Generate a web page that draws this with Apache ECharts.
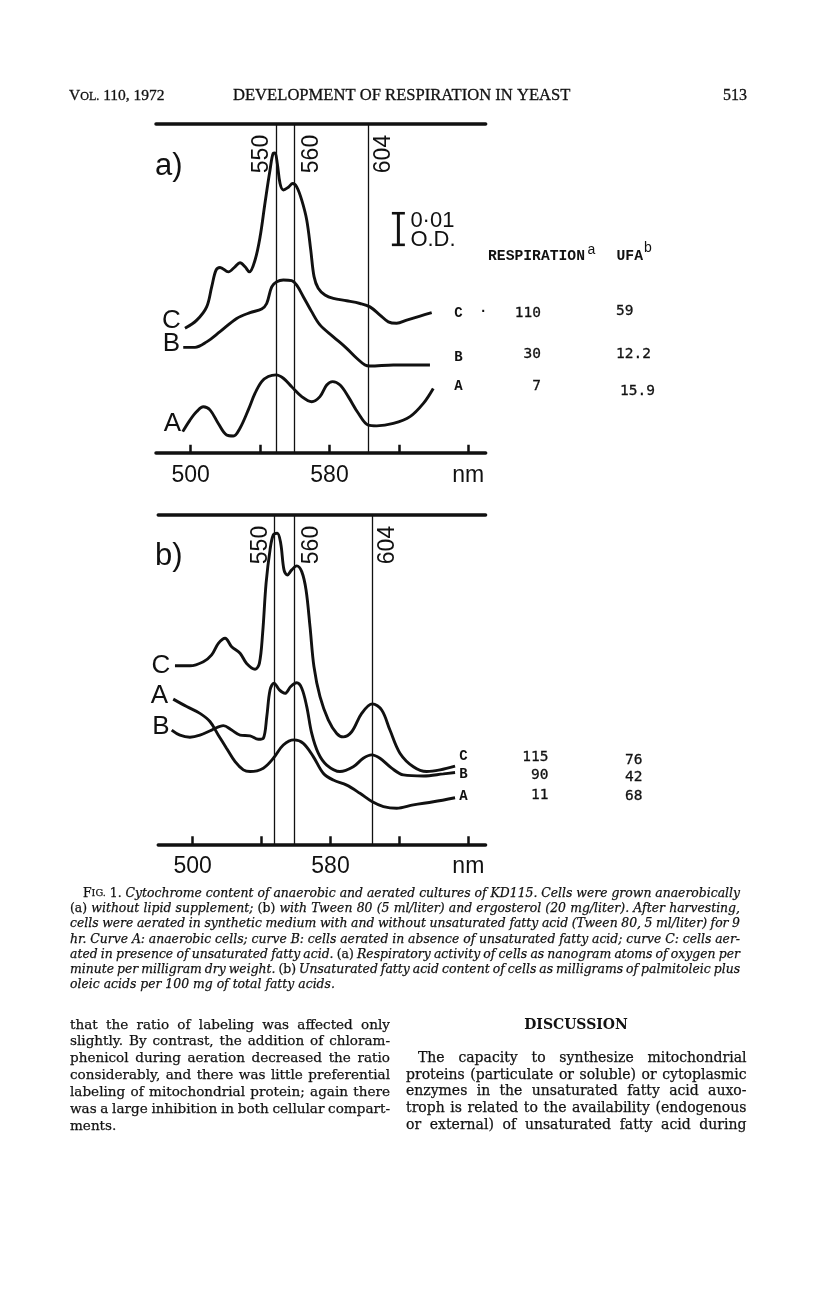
<!DOCTYPE html>
<html><head><meta charset="utf-8">
<script src="https://cdn.jsdelivr.net/npm/echarts@6/dist/echarts.min.js"></script>
<style>html,body{margin:0;padding:0;background:#fff}#c{width:816px;height:1305px}</style>
</head><body><div id="c"></div>
<script>
// ---------------- DATA ----------------
// wavelengths (nm) and relative absorbance (units of 0.001 O.D., arbitrary offsets)
const aC_nm = [496.7,503.5,509.2,512.1,514.6,516.9,521.7,525.5,528.4,531.3,533.8,537.1,540.0,542.8,545.7,547.6,548.6,549.9,551.5,553.4,556.3,558.8,561.1,564.0,566.9,569.2,571.1,573.5,577.4,582.2,589.9,597.6,603.3,609.1,613.9,618.7,624.5,632.2,638.9];
const aC_od = [36.6,39.0,42.9,48.8,53.7,54.5,53.2,54.7,55.9,54.7,53.2,56.7,63.5,73.4,83.1,88.1,88.2,85.1,79.2,77.3,78.1,79.2,78.2,74.3,68.4,59.6,51.8,48.4,46.4,45.4,44.7,43.9,42.9,40.5,38.5,38.1,39.0,40.2,41.2];
const aB_nm = [495.7,502.5,509.2,516.9,526.5,534.2,540.9,543.8,546.7,549.6,553.4,558.2,561.1,564.9,569.7,574.5,582.2,589.9,595.7,600.5,603.3,616.8,637.9];
const aB_od = [31.0,31.0,32.6,35.6,39.5,41.2,42.3,43.9,48.8,50.3,50.8,50.6,49.3,45.9,41.5,37.6,34.1,30.7,27.8,25.8,25.5,25.8,25.8];
const aA_nm = [495.4,499.6,503.5,507.3,511.1,515.9,520.7,524.6,528.4,533.2,537.1,540.9,544.7,549.2,553.4,558.2,564.0,569.7,574.5,578.4,581.8,586.1,590.8,596.6,602.4,607.2,616.8,626.4,634.1,639.8];
const aA_od = [6.2,9.6,12.1,13.5,12.6,8.6,5.2,4.9,7.2,12.6,17.5,20.9,22.4,22.9,21.9,19.4,16.5,15.0,16.5,19.9,20.9,19.9,16.5,11.6,8.1,7.9,8.6,10.6,14.5,18.9];

const bC_nm = [489.7,498.4,506.2,511.0,514.9,518.8,522.6,527.5,531.3,536.2,538.7,540.6,542.6,544.9,546.8,549.1,551.1,553.0,554.9,557.5,560.4,563.3,565.8,568.1,570.4,573.9,578.7,583.6,587.4,592.3,598.1,604.3,609.7,614.5,620.3,628.1,635.8,643.6,652.3];
const bC_od = [52.5,52.5,53.7,55.7,59.1,60.6,58.1,56.2,53.2,51.5,53.2,62.1,76.8,86.6,91.0,91.5,88.5,80.7,79.2,80.7,81.9,80.2,74.8,64.0,52.2,43.4,36.6,32.6,31.6,33.1,38.5,41.3,39.5,33.6,26.8,22.8,21.4,21.9,23.0];
const bB_nm = [487.8,492.6,498.4,504.2,511.0,517.8,522.6,527.5,533.3,538.1,541.0,543.0,544.9,547.2,550.3,553.6,556.9,560.4,563.3,566.2,569.1,572.9,577.8,585.5,593.2,599.0,603.9,608.7,615.5,622.3,633.9,645.5,652.3];
const bB_od = [33.6,32.1,31.5,32.1,33.6,34.9,33.6,32.1,31.9,30.9,31.2,37.5,45.4,47.4,45.4,44.4,46.4,47.5,45.9,40.5,32.6,26.8,23.3,21.4,22.8,25.3,26.3,25.3,22.4,20.4,20.1,20.7,21.1];
const bA_nm = [488.7,496.5,504.2,510.0,514.9,519.7,524.6,529.4,533.3,541.0,546.8,552.6,558.8,564.2,570.0,575.8,581.6,589.4,597.1,604.3,610.7,618.4,628.1,639.7,652.3];
const bA_od = [42.7,40.5,38.5,36.1,32.1,28.2,24.3,21.9,21.4,22.4,25.3,29.2,30.7,29.7,25.8,20.9,18.9,17.4,15.0,12.5,11.1,10.6,11.6,12.5,13.7];

// reference wavelength lines (as drawn) and their labels
const aLines_nm = [549.2, 559.5, 602.4];
const bLines_nm = [547.4, 558.8, 604.3];
const lineLabels = ['550', '560', '604'];

// axis ticks / labels
const tickValues = [500, 540, 580, 620, 660];
const labelValues = [500, 580, 660];
const labelTexts = {500: '500', 580: '580', 660: 'nm'};

// scale bar: 0.01 O.D. (10 units)
const scaleBar = {nm: 619.7, od: 60.8, len: 10, text1: '0\u00b701', text2: 'O.D.'};

// table values
const tableRows = ['C', 'B', 'A'];
const aRespiration = ['110', '30', '7'];
const aUFA = ['59', '12.2', '15.9'];
const bRespiration = ['115', '90', '11'];
const bUFA = ['76', '42', '68'];

// texts
const headerLeft = 'VOL. 110, 1972';
const headerTitle = 'DEVELOPMENT OF RESPIRATION IN YEAST';
const headerPage = '513';
const captionLines = [
  'FIG. 1. Cytochrome content of anaerobic and aerated cultures of KD115. Cells were grown anaerobically',
  '(a) without lipid supplement; (b) with Tween 80 (5 ml/liter) and ergosterol (20 mg/liter). After harvesting,',
  'cells were aerated in synthetic medium with and without unsaturated fatty acid (Tween 80, 5 ml/liter) for 9',
  'hr. Curve A: anaerobic cells; curve B: cells aerated in absence of unsaturated fatty acid; curve C: cells aer-',
  'ated in presence of unsaturated fatty acid. (a) Respiratory activity of cells as nanogram atoms of oxygen per',
  'minute per milligram dry weight. (b) Unsaturated fatty acid content of cells as milligrams of palmitoleic plus',
  'oleic acids per 100 mg of total fatty acids.'
];
const leftColumn = [
  'that the ratio of labeling was affected only',
  'slightly. By contrast, the addition of chloram-',
  'phenicol during aeration decreased the ratio',
  'considerably, and there was little preferential',
  'labeling of mitochondrial protein; again there',
  'was a large inhibition in both cellular compart-',
  'ments.'
];
const rightHeading = 'DISCUSSION';
const rightColumn = [
  'The capacity to synthesize mitochondrial',
  'proteins (particulate or soluble) or cytoplasmic',
  'enzymes in the unsaturated fatty acid auxo-',
  'troph is related to the availability (endogenous',
  'or external) of unsaturated fatty acid during'
];

// ---------------- CHART ----------------
const INK = '#111';
const chart = echarts.init(document.getElementById('c'), null, {renderer: 'canvas'});
const zip = (x, y) => x.map((v, i) => [v, y[i]]);

function xAxesFor(gi) {
  return [{
    gridIndex: gi, type: 'value', min: 480, max: 670, position: 'bottom',
    axisLine: {onZero: false, lineStyle: {color: INK, width: 3.5}},
    axisTick: {show: true, inside: true, length: 8, customValues: tickValues, lineStyle: {color: INK, width: 2.5}},
    axisLabel: {show: true, customValues: labelValues, formatter: v => labelTexts[v] || '', margin: 11,
      color: INK, fontSize: 23, fontFamily: 'Liberation Sans, Arial, sans-serif'},
    splitLine: {show: false}
  }, {
    gridIndex: gi, type: 'value', min: 480, max: 670, position: 'top',
    axisLine: {onZero: false, lineStyle: {color: INK, width: 3.5}},
    axisTick: {show: false}, axisLabel: {show: false}, splitLine: {show: false}
  }];
}
function curve(name, xi, yi, nm, od, marks) {
  const s = {
    name, type: 'line', xAxisIndex: xi, yAxisIndex: yi, data: zip(nm, od),
    smooth: 0.35, showSymbol: false, symbol: 'none', silent: true,
    lineStyle: {color: INK, width: 2.9}, z: 3
  };
  if (marks) {
    s.markLine = {silent: true, symbol: 'none', label: {show: false},
      lineStyle: {color: INK, width: 1.3, type: 'solid'},
      data: marks.map(v => ({xAxis: v}))};
  }
  return s;
}

const option = {
  backgroundColor: '#fff',
  animation: false,
  grid: [
    {left: 156, top: 124, width: 329.65, height: 328.7, containLabel: false, outerBoundsMode: 'none'},
    {left: 158.25, top: 515, width: 327.3, height: 329.3, containLabel: false, outerBoundsMode: 'none'}
  ],
  xAxis: [...xAxesFor(0), ...xAxesFor(1)],
  yAxis: [
    {gridIndex: 0, type: 'value', min: 0, max: 96.7, show: false},
    {gridIndex: 1, type: 'value', min: 0, max: 96.85, show: false}
  ],
  series: [
    curve('a-C', 0, 0, aC_nm, aC_od, aLines_nm),
    curve('a-B', 0, 0, aB_nm, aB_od),
    curve('a-A', 0, 0, aA_nm, aA_od),
    curve('b-C', 2, 1, bC_nm, bC_od, bLines_nm),
    curve('b-B', 2, 1, bB_nm, bB_od),
    curve('b-A', 2, 1, bA_nm, bA_od)
  ]
};
chart.setOption(option);

// ---------------- ANNOTATIONS ----------------
const els = [];
const SANS = 'Liberation Sans, Arial, sans-serif';
const SERIF = 'DejaVu Serif, serif';
const TIMES = 'Liberation Serif, serif';
function txt(x, y, t, font, align, extra, bold) {
  const st = {text: t, font, fill: INK, align: align || 'left', verticalAlign: 'middle',
      textAlign: align || 'left', textVerticalAlign: 'middle'};
  if (bold) { st.stroke = INK; st.lineWidth = bold; }
  const e = Object.assign({type: 'text', x, y, silent: true, z: 10, style: st}, extra || {});
  els.push(e);
}
function ln(x1, y1, x2, y2, w) {
  els.push({type: 'line', silent: true, z: 10, shape: {x1, y1, x2, y2}, style: {stroke: INK, lineWidth: w, lineCap: 'butt'}});
}

// rotated wavelength labels near top of each reference line
const labelOffsets = [-14, 18, 15];
[[0, aLines_nm], [1, bLines_nm]].forEach(([gi, arr]) => {
  arr.forEach((v, i) => {
    const topY = chart.convertToPixel({gridIndex: gi}, [v, gi === 0 ? 96.7 : 96.85])[1];
    const x = chart.convertToPixel({gridIndex: gi}, [v, 0])[0];
    txt(x + labelOffsets[i], topY + 30, lineLabels[i], '23px ' + SANS, 'center', {rotation: Math.PI / 2});
  });
});

// panel letters
txt(155, 166, 'a)', '31px ' + SANS, 'left');
txt(155, 556, 'b)', '31px ' + SANS, 'left');

// curve letters on the left
txt(171.5, 321, 'C', '26px ' + SANS, 'center');
txt(171.5, 344, 'B', '26px ' + SANS, 'center');
txt(172.5, 423.5, 'A', '26px ' + SANS, 'center');
txt(161, 665.5, 'C', '26px ' + SANS, 'center');
txt(159.5, 695.5, 'A', '26px ' + SANS, 'center');
txt(161, 727, 'B', '26px ' + SANS, 'center');

// scale bar
(function () {
  const p0 = chart.convertToPixel({gridIndex: 0}, [scaleBar.nm, scaleBar.od]);
  const p1 = chart.convertToPixel({gridIndex: 0}, [scaleBar.nm, scaleBar.od + scaleBar.len]);
  ln(p0[0], p0[1], p1[0], p1[1], 3);
  ln(p0[0] - 6.5, p0[1] - 1.2, p0[0] + 6.5, p0[1] - 1.2, 2.6);
  ln(p1[0] - 6.5, p1[1] + 1.2, p1[0] + 6.5, p1[1] + 1.2, 2.6);
  txt(p0[0] + 12, p1[1] + 8.5, scaleBar.text1, '22px ' + SANS, 'left');
  txt(p0[0] + 12, p0[1] - 6.5, scaleBar.text2, '22px ' + SANS, 'left');
})();

// table
const MONO_B = 'bold 14.7px Liberation Mono, Courier New, monospace';
const LET = 'bold 14px Liberation Mono, Courier New, monospace';
const NUM = '14.5px DejaVu Sans Mono, monospace';
txt(488, 256.5, 'RESPIRATION', MONO_B, 'left');
txt(587.5, 250, 'a', '14px ' + SANS, 'left');
txt(616.5, 256.5, 'UFA', MONO_B, 'left');
txt(644, 248, 'b', '14px ' + SANS, 'left');
const aRowsY = [313.5, 357, 386.5], aNumY = [313.5, 354.5, 386.5], aUfaY = [311.5, 354.5, 391.5], aUfaX = [616, 616, 620];
tableRows.forEach((r, i) => {
  txt(458.5, aRowsY[i], r, LET, 'center');
  txt(541, aNumY[i], aRespiration[i], NUM, 'right', null, 0.3);
  txt(aUfaX[i], aUfaY[i], aUFA[i], NUM, 'left', null, 0.3);
});
txt(483.5, 312, '\u00b7', 'bold 14px ' + SANS, 'center');
const bRowsY = [756, 774.5, 796], bNumY = [757, 775.5, 795.5], bUfaY = [760.5, 777, 796];
tableRows.forEach((r, i) => {
  txt(463.5, bRowsY[i], r, LET, 'center');
  txt(548.5, bNumY[i], bRespiration[i], NUM, 'right', null, 0.3);
  txt(625, bUfaY[i], bUFA[i], NUM, 'left', null, 0.3);
});

// ---------------- PAGE TEXT (justified) ----------------
const cv = document.createElement('canvas').getContext('2d');
function tw(t, f) { cv.font = f; return cv.measureText(t).width; }
function fnt(style, weight, size, fam) { return style + ' ' + weight + ' ' + size.toFixed(2) + 'px ' + fam; }

function capTokens(line) {
  return line.split(' ').map(w => {
    if (w === 'FIG.') return [{t: 'F', k: 'r'}, {t: 'IG.', k: 'rs'}];
    if (w === '1.' || w === '(a)' || w === '(b)') return [{t: w, k: 'r'}];
    return [{t: w, k: 'i'}];
  });
}
function plainTokens(line) { return line.split(' ').map(w => [{t: w, k: 'r'}]); }
function segFont(k, size, fam) {
  if (k === 'i') return fnt('italic', 'normal', size, fam);
  if (k === 'rs') return fnt('normal', 'normal', size * 0.78, fam);
  if (k === 'b') return fnt('normal', 'bold', size, fam);
  return fnt('normal', 'normal', size, fam);
}
function wordWidth(word, size, fam) { return word.reduce((a, s) => a + tw(s.t, segFont(s.k, size, fam)), 0); }

function layoutBlock(lines, tok, o) {
  let size = o.base;
  lines.forEach((ln_, i) => {
    const last = i === lines.length - 1 && !o.justifyLast;
    if (last) return;
    const words = tok(ln_);
    const w100 = words.reduce((a, w) => a + wordWidth(w, 100, o.fam), 0) / 100;
    const avail = o.x1 - o.x0 - (o.indents[i] || 0);
    const s = avail / (w100 + o.minSpace * (words.length - 1));
    if (s < size) size = s;
  });
  lines.forEach((ln_, i) => {
    const words = tok(ln_);
    const x0 = o.x0 + (o.indents[i] || 0);
    const ws = words.map(w => wordWidth(w, size, o.fam));
    const total = ws.reduce((a, b) => a + b, 0);
    const last = i === lines.length - 1 && !o.justifyLast;
    const gap = (!last && words.length > 1) ? (o.x1 - x0 - total) / (words.length - 1) : tw(' ', segFont('r', size, o.fam));
    let x = x0;
    const y = o.y0 + i * o.dy;
    words.forEach((w, j) => {
      let sx = x;
      w.forEach(sg => {
        const f = segFont(sg.k, size, o.fam);
        txt(sx, y, sg.t, f, 'left', null, o.stroke);
        sx += tw(sg.t, f);
      });
      x += ws[j] + gap;
    });
  });
}

// header
(function () {
  const f = fnt('normal', 'normal', 15.5, TIMES);
  const fs = fnt('normal', 'normal', 15.5 * 0.78, TIMES);
  let x = 69;
  txt(x, 96, 'V', f, 'left', null, 0.3); x += tw('V', f);
  txt(x, 96.5, 'OL.', fs, 'left', null, 0.3); x += tw('OL.', fs);
  txt(x, 96, headerLeft.slice(4), f, 'left', null, 0.3);
  txt(233, 96, headerTitle, fnt('normal', 'normal', 16.6, TIMES), 'left', null, 0.3);
  txt(747, 96, headerPage, fnt('normal', 'normal', 16, TIMES), 'right', null, 0.3);
})();

layoutBlock(captionLines, capTokens, {x0: 70, x1: 740, y0: 893.3, dy: 15.33, base: 12.6, fam: SERIF,
  indents: [13], justifyLast: false, stroke: 0.25, minSpace: 0.24});
layoutBlock(leftColumn, plainTokens, {x0: 70, x1: 390, y0: 1025, dy: 16.95, base: 14, fam: SERIF,
  indents: [], justifyLast: false, stroke: 0.25, minSpace: 0.27});
txt(576, 1025, rightHeading, fnt('normal', 'bold', 14, SERIF), 'center');
layoutBlock(rightColumn, plainTokens, {x0: 406, x1: 746.5, y0: 1058, dy: 16.9, base: 14, fam: SERIF,
  indents: [12], justifyLast: true, stroke: 0.25, minSpace: 0.27});

chart.setOption({graphic: {elements: els}});
</script>
</body></html>
